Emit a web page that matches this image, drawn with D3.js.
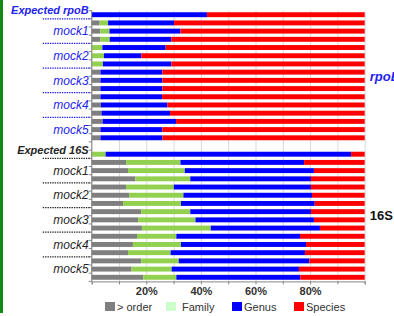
<!DOCTYPE html>
<html>
<head>
<meta charset="utf-8">
<script src="https://cdn.jsdelivr.net/npm/d3@7"></script>
<style>
    body { margin: 0; background: #fff; }
    svg { display: block; font-family: "Liberation Sans", Arial, sans-serif; }
    .grid line { stroke: #d9d9d9; }
    .grid .domain { display: none; }
    .x-axis .domain, .x-axis line { stroke: #868686; }
    .x-axis text { font-size: 11px; font-weight: bold; fill: #333; }
</style>
</head>
<body>
<div id="chart"></div>
<script>

// Percentages per bar: Expected first, then 3 replicates for each mock
var rpoBOrder   = [0, 2.9, 3.2, 3.2, 0, 0, 0, 3.2, 3.2, 3.2, 3.2, 3.4, 3.6, 4.0, 3.2, 3.2];
var rpoBFamily  = [0, 3.1, 3.3, 3.4, 3.9, 4.5, 4.1, 0, 0, 0, 0, 0, 0, 0, 0, 0];
var rpoBGenus   = [42.2, 24.2, 26.0, 22.6, 23.2, 13.7, 25.1, 22.7, 22.7, 22.7, 22.6, 24.3, 25.1, 26.9, 22.7, 22.7];
var rpoBSpecies = [57.8, 69.8, 67.5, 70.8, 72.9, 81.8, 70.8, 74.1, 74.1, 74.1, 74.2, 72.3, 71.3, 69.1, 74.1, 74.1];

var s16Order   = [0, 12.6, 13.3, 16.0, 12.6, 13.7, 11.5, 18.1, 17.0, 18.4, 16.6, 15.1, 13.3, 18.1, 14.6, 18.9];
var s16Family  = [5.1, 19.9, 20.8, 20.1, 17.5, 19.9, 21.2, 18.0, 21.0, 25.2, 14.4, 17.6, 15.6, 13.8, 14.7, 12.1];
var s16Genus   = [89.9, 45.3, 47.3, 44.2, 50.2, 47.1, 49.0, 44.2, 43.4, 40.0, 45.3, 45.8, 49.2, 47.8, 46.6, 45.4];
var s16Species = [5.0, 22.2, 18.6, 19.7, 19.7, 19.3, 18.3, 19.7, 18.6, 16.4, 23.7, 21.5, 21.9, 20.3, 24.1, 23.6];

var seriesKeys   = ["order", "family", "genus", "species"];
var seriesNames  = ["> order", "Family", "Genus", "Species"];
var barColors    = ["#7f7f7f", "#92d050", "#0000ff", "#ff0000"];
var legendColors = ["#7f7f7f", "#ccffcc", "#0000ff", "#ff0000"];
var groupNames   = ["mock1", "mock2", "mock3", "mock4", "mock5"];
var xTicks       = [0, 10, 20, 30, 40, 50, 60, 70, 80, 90, 100];
var xLabelTicks  = [20, 40, 60, 80];

var sections = [
    { key: "rpoB", expected: "Expected rpoB", color: "#2323ee",
      cols: [rpoBOrder, rpoBFamily, rpoBGenus, rpoBSpecies] },
    { key: "16S", expected: "Expected 16S", color: "#262626",
      cols: [s16Order, s16Family, s16Genus, s16Species] }
];

// build rows (one empty slot between the two sections)
var rows = [];
var ids = [];
sections.forEach(function(sec, si) {
    if (si > 0) ids.push("gap");
    sec.cols[0].forEach(function(v, i) {
        var r = { id: sec.key + "-" + i, section: sec.key };
        seriesKeys.forEach(function(k, ki) { r[k] = sec.cols[ki][i]; });
        rows.push(r);
        ids.push(r.id);
    });
});

var margin = { top: 10.6, right: 29.3, bottom: 34.6, left: 91.7 };
var width = 394 - margin.left - margin.right,
    height = 316 - margin.top - margin.bottom;

var root = d3.select("#chart").append("svg")
    .attr("width", 394)
    .attr("height", 316);

// green border on the left
root.append("rect")
    .attr("x", 0).attr("y", 0)
    .attr("width", 3).attr("height", 313)
    .attr("fill", "#138a13");

var svg = root.append("g")
    .attr("transform", "translate(" + margin.left + "," + margin.top + ")");

var x = d3.scaleLinear().domain([0, 100]).range([0, width]);
var y = d3.scaleBand().domain(ids).range([0, height])
    .paddingInner(0.4).paddingOuter(0.2);
var step = y.step();

// gridlines
svg.append("g")
    .attr("class", "grid")
    .attr("transform", "translate(0," + height + ")")
    .call(d3.axisBottom(x).tickValues(xTicks).tickSize(-height).tickFormat(""));

// stacked bars
var stack = d3.stack().keys(seriesKeys);
var stacked = stack(rows);

svg.selectAll(".series")
    .data(stacked)
    .enter().append("g")
    .attr("class", "series")
    .attr("fill", function(d, i) { return barColors[i]; })
    .selectAll("rect")
    .data(function(d) { return d; })
    .enter().append("rect")
    .attr("x", function(d) { return x(d[0]); })
    .attr("width", function(d) { return x(d[1]) - x(d[0]); })
    .attr("y", function(d) { return y(d.data.id); })
    .attr("height", y.bandwidth());

// x axis
svg.append("g")
    .attr("class", "x-axis")
    .attr("transform", "translate(0," + height + ")")
    .call(d3.axisBottom(x).tickValues(xTicks).tickSize(3).tickPadding(2.5)
        .tickFormat(function(d) { return xLabelTicks.indexOf(d) >= 0 ? d + "%" : ""; }));

// left category axis with ticks between categories
svg.append("line")
    .attr("x1", 0).attr("x2", 0)
    .attr("y1", 0).attr("y2", height)
    .attr("stroke", "#868686");

svg.selectAll(".ytick")
    .data(d3.range(ids.length + 1))
    .enter().append("line")
    .attr("class", "ytick")
    .attr("x1", -3).attr("x2", 0)
    .attr("y1", function(k) { return k * step + y.paddingOuter() * step - y.paddingOuter() * step; })
    .attr("y2", function(k) { return k * step; })
    .attr("stroke", "#868686");

function center(id) { return y(id) + y.bandwidth() / 2; }

// category labels and dotted separators
sections.forEach(function(sec) {
    var first = sec.key + "-0";

    svg.append("text")
        .attr("x", -3)
        .attr("y", center(first))
        .attr("dy", "-0.05em")
        .attr("text-anchor", "end")
        .attr("font-size", 11)
        .attr("font-weight", "bold")
        .attr("font-style", "italic")
        .attr("fill", sec.color)
        .text(sec.expected);

    groupNames.forEach(function(name, g) {
        var start = 1 + g * 3;
        var top = center(sec.key + "-" + start) - step / 2;

        svg.append("line")
            .attr("x1", -49).attr("x2", -2)
            .attr("y1", top).attr("y2", top)
            .attr("stroke", sec.color)
            .attr("stroke-width", 1.2)
            .attr("stroke-dasharray", "1.4,1");

        svg.append("text")
            .attr("x", -3)
            .attr("y", center(sec.key + "-" + (start + 1)))
            .attr("dy", "0.35em")
            .attr("text-anchor", "end")
            .attr("font-size", 12)
            .attr("font-style", "italic")
            .attr("fill", sec.color)
            .text(name);
    });

    // section label on the right
    var mid = (center(first) + center(sec.key + "-" + (sec.cols[0].length - 1))) / 2;
    svg.append("text")
        .attr("x", width + 5)
        .attr("y", mid)
        .attr("dy", "0.35em")
        .attr("font-size", 13)
        .attr("font-weight", "bold")
        .attr("font-style", sec.key === "rpoB" ? "italic" : "normal")
        .attr("fill", sec.color === "#262626" ? "#111" : sec.color)
        .text(sec.key);
});

// legend
var legendX = [105, 166, 232, 294];
var legend = root.append("g").attr("transform", "translate(0,302)");
seriesNames.forEach(function(name, i) {
    legend.append("rect")
        .attr("x", legendX[i]).attr("y", 0)
        .attr("width", 10).attr("height", 9)
        .attr("fill", legendColors[i]);
    legend.append("text")
        .attr("x", legendX[i] + (i === 1 ? 16 : 12))
        .attr("y", 8.5)
        .attr("font-size", 11)
        .attr("fill", "#333")
        .text(name);
});

</script>
</body>
</html>
